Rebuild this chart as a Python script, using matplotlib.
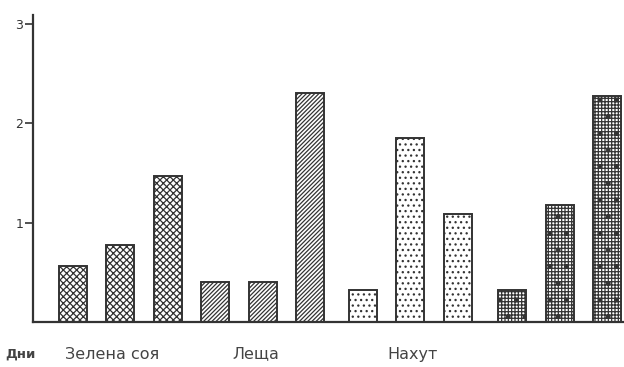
import matplotlib.pyplot as plt
from matplotlib.transforms import blended_transform_factory

plt.rcParams['font.family'] = ['DejaVu Sans']
plt.rcParams['hatch.linewidth'] = 0.9

# данни (дни), отчетени от графиката
groups = ['Зелена соя', 'Леща', 'Нахут', '']
values = [
    [0.56, 0.77, 1.47],
    [0.40, 0.40, 2.30],
    [0.32, 1.85, 1.09],
    [0.32, 1.18, 2.27],
]
hatches = ['xxxxx', '////////', '...', '+++++.']
offsets = [0, 3.0, 6.1, 9.25]

fig = plt.figure(figsize=(6.24, 3.67), dpi=100)
ax = fig.add_axes([0.053, 0.1226, 0.947, 0.837])

ink = '#333333'
for g, vals in enumerate(values):
    xs = [offsets[g] + i for i in range(len(vals))]
    ax.bar(xs, vals, width=0.59, facecolor='white', edgecolor=ink,
           linewidth=1.4, hatch=hatches[g])

ax.set_xlim(-0.84, 11.6)
ax.set_ylim(0, 3.09)
ax.set_yticks([1, 2, 3])
ax.set_xticks([])
ax.tick_params(axis='y', direction='out', length=6, width=1.2, colors=ink,
               labelsize=9, pad=1)
for s in ['top', 'right']:
    ax.spines[s].set_visible(False)
for s in ['left', 'bottom']:
    ax.spines[s].set_linewidth(1.6)
    ax.spines[s].set_color(ink)

trans = blended_transform_factory(ax.transData, fig.transFigure)
label_x = [0.82, 3.85, 7.14]
for name, x in zip(groups, label_x):
    if name:
        ax.text(x, 0.035, name, transform=trans, ha='center', va='center',
                fontsize=11.5, color='#444444')
fig.text(0.008, 0.035, 'Дни', ha='left', va='center', fontsize=9.5,
         fontweight='bold', color='#444444')

fig.savefig('out.png', dpi=100)
